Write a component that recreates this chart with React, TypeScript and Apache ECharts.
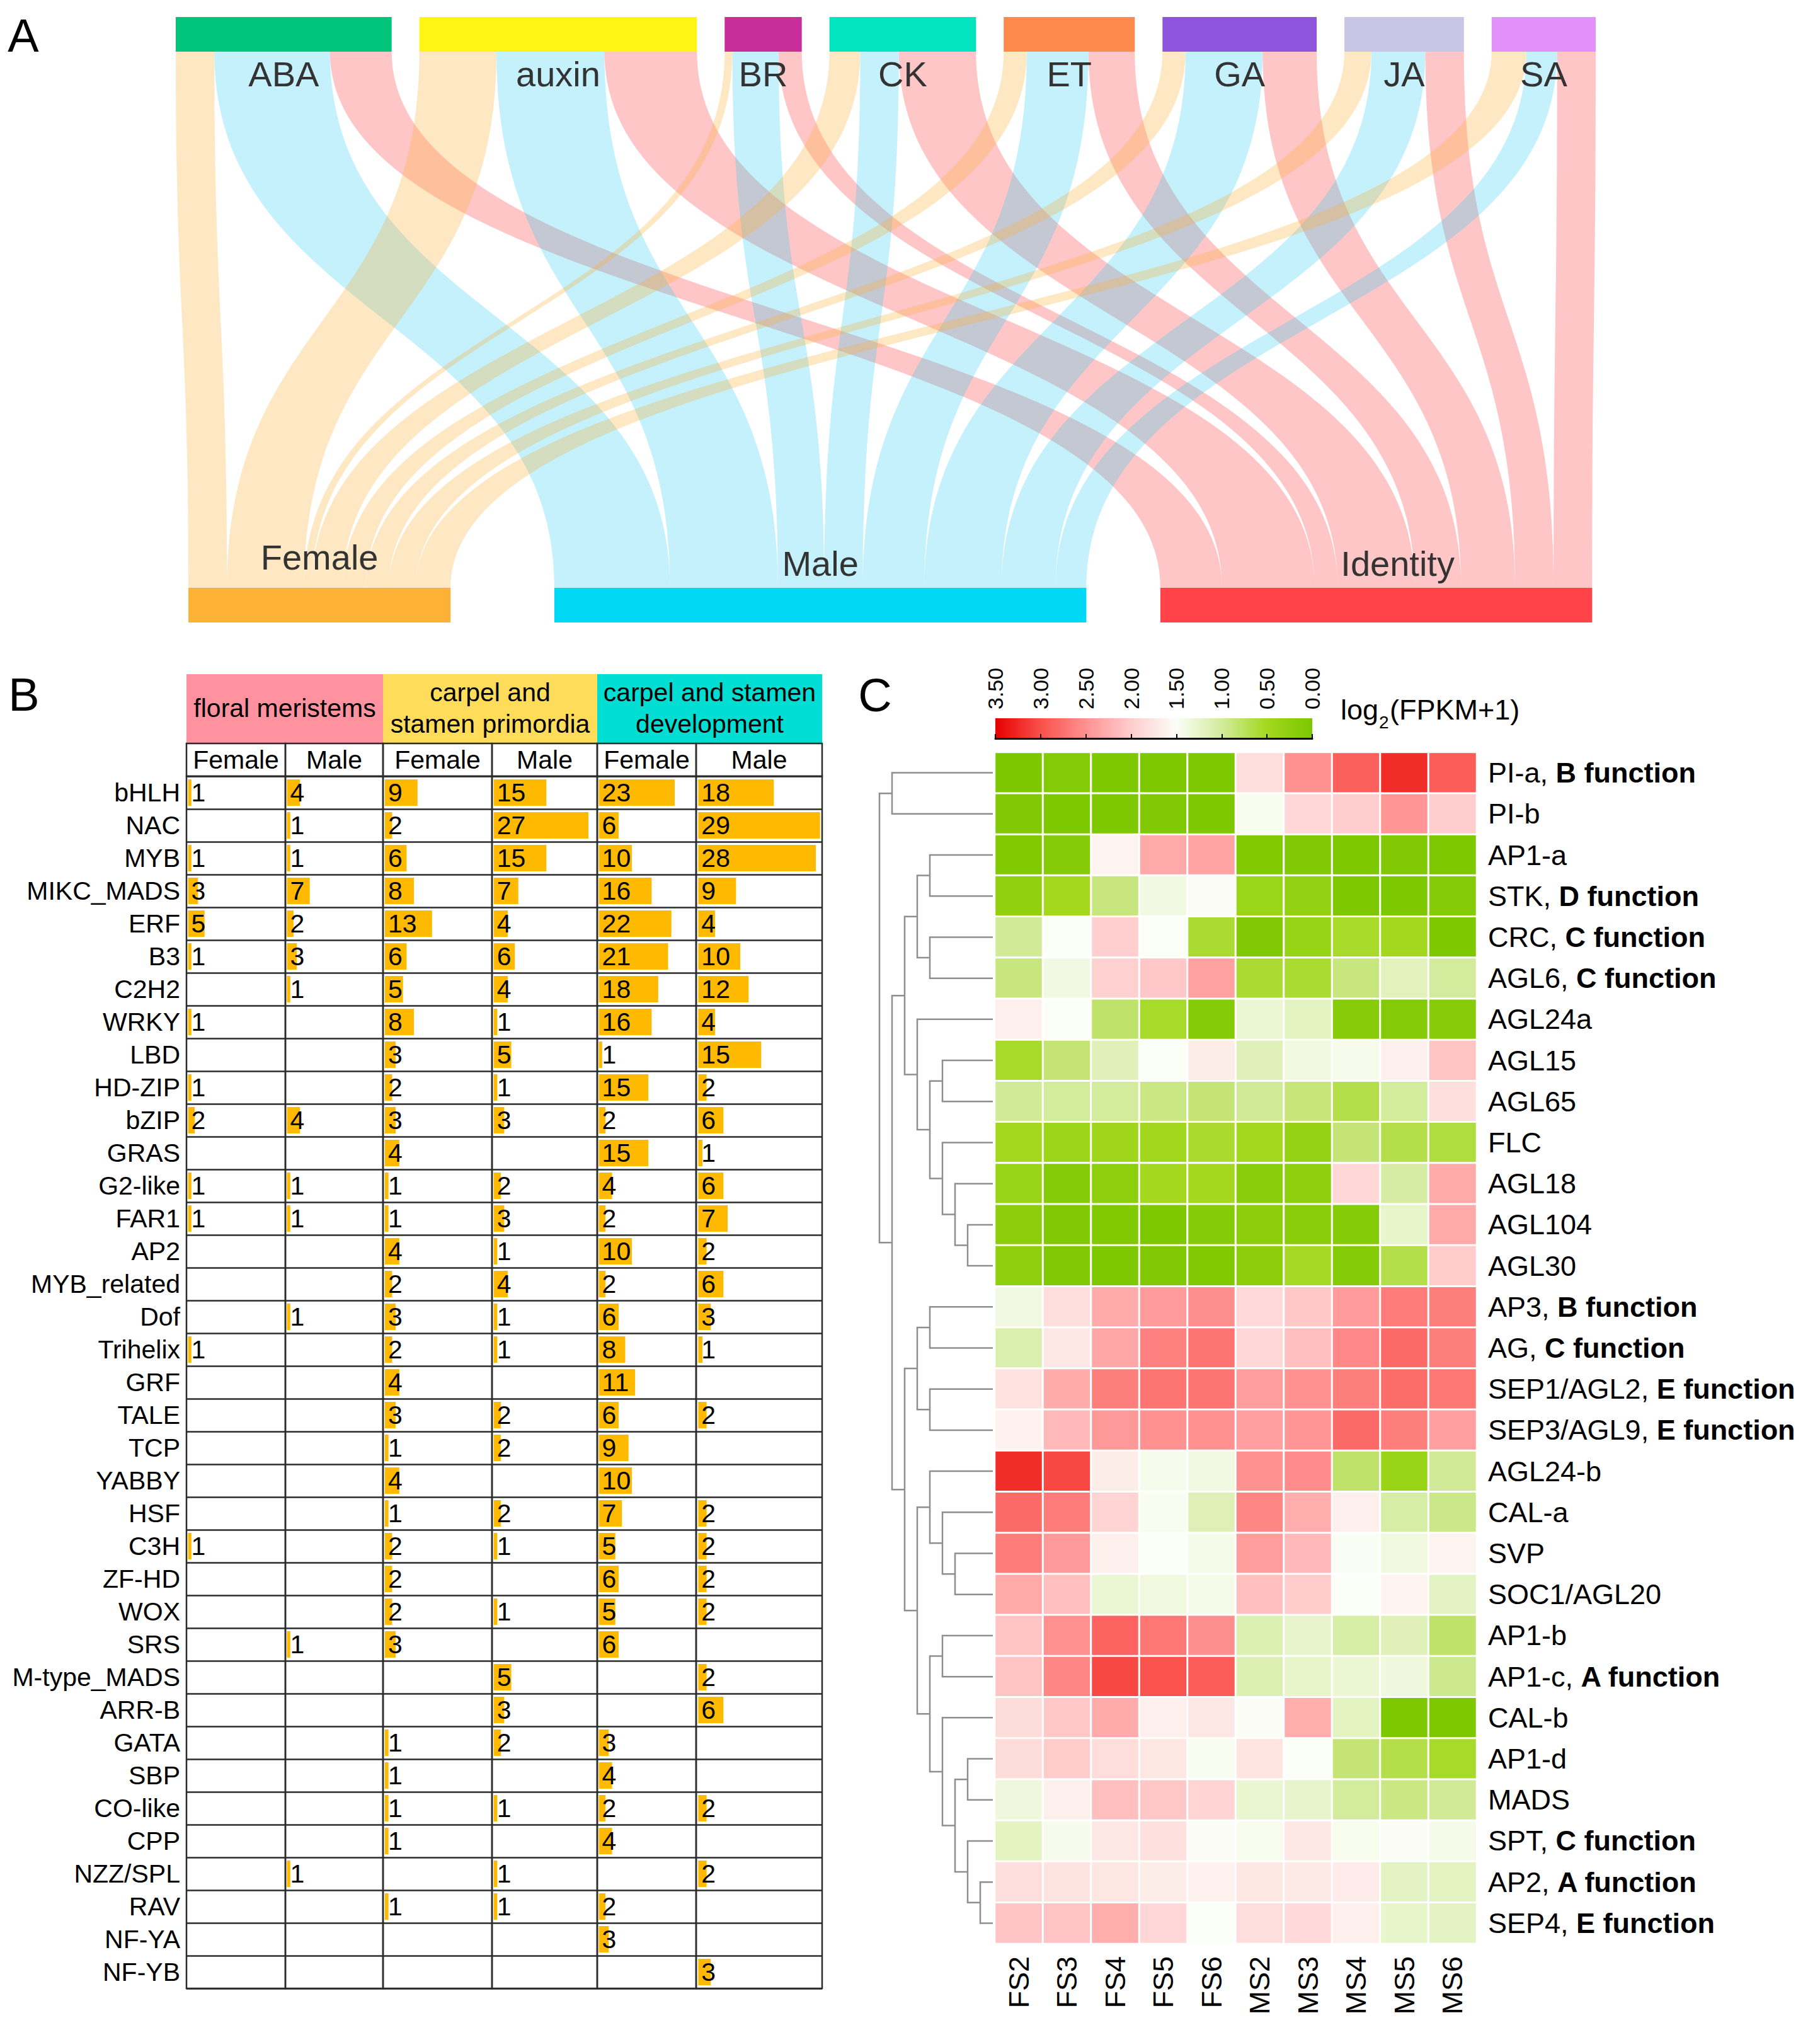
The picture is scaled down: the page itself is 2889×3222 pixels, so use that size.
import React, { useEffect, useRef } from 'react';
import * as echarts from 'echarts';

const FONT = '"Liberation Sans", Arial, Helvetica, sans-serif';
const W = 2889;
const H = 3222;

// ---------------- Panel A: hormone -> organ gene flows ----------------
const HORMONES = ['ABA', 'auxin', 'BR', 'CK', 'ET', 'GA', 'JA', 'SA'];
const HORMONE_COLORS = ['#00C47A', '#FFF514', '#C92D98', '#00E5C0', '#FF8A4C', '#8E54DB', '#C8C5E6', '#E291FB'];
const ORGANS = ['Female', 'Male', 'Identity'];
const ORGAN_COLORS = ['#FDB137', '#00D8F5', '#FF4349'];
const ORGAN_LINK_COLORS = ['rgba(253,177,55,0.3)', 'rgba(44,205,241,0.28)', 'rgba(255,67,73,0.3)'];
const FEMALE_GENES = [10, 20, 2, 8, 6, 6, 7, 9];
const MALE_GENES = [30, 28, 12, 10, 16, 20, 14, 8];
const IDENTITY_GENES = [16, 24, 6, 20, 12, 14, 10, 10];

// ---------------- Panel B: TF families ----------------
const TF_FAMILIES = ['bHLH', 'NAC', 'MYB', 'MIKC_MADS', 'ERF', 'B3', 'C2H2', 'WRKY', 'LBD', 'HD-ZIP', 'bZIP', 'GRAS', 'G2-like', 'FAR1', 'AP2', 'MYB_related', 'Dof', 'Trihelix', 'GRF', 'TALE', 'TCP', 'YABBY', 'HSF', 'C3H', 'ZF-HD', 'WOX', 'SRS', 'M-type_MADS', 'ARR-B', 'GATA', 'SBP', 'CO-like', 'CPP', 'NZZ/SPL', 'RAV', 'NF-YA', 'NF-YB'];
const _ = null;
const FM_FEMALE = [1, _, 1, 3, 5, 1, _, 1, _, 1, 2, _, 1, 1, _, _, _, 1, _, _, _, _, _, 1, _, _, _, _, _, _, _, _, _, _, _, _, _];
const FM_MALE = [4, 1, 1, 7, 2, 3, 1, _, _, _, 4, _, 1, 1, _, _, 1, _, _, _, _, _, _, _, _, _, 1, _, _, _, _, _, _, 1, _, _, _];
const CSP_FEMALE = [9, 2, 6, 8, 13, 6, 5, 8, 3, 2, 3, 4, 1, 1, 4, 2, 3, 2, 4, 3, 1, 4, 1, 2, 2, 2, 3, _, _, 1, 1, 1, 1, _, 1, _, _];
const CSP_MALE = [15, 27, 15, 7, 4, 6, 4, 1, 5, 1, 3, _, 2, 3, 1, 4, 1, 1, _, 2, 2, _, 2, 1, _, 1, _, 5, 3, 2, _, 1, _, 1, 1, _, _];
const CSD_FEMALE = [23, 6, 10, 16, 22, 21, 18, 16, 1, 15, 2, 15, 4, 2, 10, 2, 6, 8, 11, 6, 9, 10, 7, 5, 6, 5, 6, _, _, 3, 4, 2, 4, _, 2, 3, _];
const CSD_MALE = [18, 29, 28, 9, 4, 10, 12, 4, 15, 2, 6, 1, 6, 7, 2, 6, 3, 1, _, 2, _, _, 2, 2, 2, 2, _, 2, 6, _, _, 2, _, 2, _, _, 3];
const TABLE_COLUMNS = [FM_FEMALE, FM_MALE, CSP_FEMALE, CSP_MALE, CSD_FEMALE, CSD_MALE];
const SUB_HEADERS = ['Female', 'Male', 'Female', 'Male', 'Female', 'Male'];
const STAGE_HEADERS = ['floral meristems', 'carpel and\nstamen primordia', 'carpel and stamen\ndevelopment'];
const STAGE_COLORS = ['#FF929E', '#FFDC5A', '#00DED4'];

// ---------------- Panel C: MADS expression heatmap ----------------
const SAMPLES = ['FS2', 'FS3', 'FS4', 'FS5', 'FS6', 'MS2', 'MS3', 'MS4', 'MS5', 'MS6'];
const GENES = ['PI-a', 'PI-b', 'AP1-a', 'STK', 'CRC', 'AGL6', 'AGL24a', 'AGL15', 'AGL65', 'FLC', 'AGL18', 'AGL104', 'AGL30', 'AP3', 'AG', 'SEP1/AGL2', 'SEP3/AGL9', 'AGL24-b', 'CAL-a', 'SVP', 'SOC1/AGL20', 'AP1-b', 'AP1-c', 'CAL-b', 'AP1-d', 'MADS', 'SPT', 'AP2', 'SEP4'];
const GENE_FUNCTIONS = ['B function', '', '', 'D function', 'C function', 'C function', '', '', '', '', '', '', '', 'B function', 'C function', 'E function', 'E function', '', '', '', '', '', 'A function', '', '', '', 'C function', 'A function', 'E function'];
const EXPRESSION = [
  [0.0, 0.1, 0.02, 0.03, 0.02, 1.83, 2.5, 2.88, 3.22, 2.9],
  [0.07, 0.02, 0.02, 0.07, 0.02, 1.45, 1.9, 2.0, 2.47, 2.0],
  [0.05, 0.12, 1.6, 2.3, 2.35, 0.05, 0.07, 0.02, 0.07, 0.02],
  [0.25, 0.5, 0.88, 1.38, 1.52, 0.4, 0.28, 0.02, 0.02, 0.12],
  [0.98, 1.5, 1.98, 1.49, 0.58, 0.07, 0.35, 0.55, 0.5, 0.03],
  [0.88, 1.38, 1.97, 2.05, 2.37, 0.58, 0.57, 0.88, 1.18, 1.0],
  [1.65, 1.5, 0.8, 0.55, 0.12, 1.3, 1.2, 0.15, 0.1, 0.15],
  [0.55, 0.85, 1.15, 1.5, 1.67, 1.16, 1.36, 1.43, 1.65, 2.07],
  [0.98, 1.0, 1.0, 0.9, 0.85, 0.98, 0.87, 0.68, 1.0, 1.82],
  [0.5, 0.42, 0.45, 0.48, 0.56, 0.5, 0.33, 0.85, 0.68, 0.63],
  [0.38, 0.12, 0.22, 0.5, 0.5, 0.18, 0.22, 1.9, 1.03, 2.3],
  [0.2, 0.07, 0.05, 0.03, 0.12, 0.2, 0.17, 0.12, 1.25, 2.3],
  [0.23, 0.07, 0.03, 0.07, 0.05, 0.2, 0.53, 0.12, 0.68, 2.02],
  [1.38, 1.83, 2.28, 2.42, 2.52, 1.88, 2.05, 2.42, 2.67, 2.65],
  [1.1, 1.73, 2.32, 2.62, 2.72, 1.9, 2.12, 2.57, 2.8, 2.65],
  [1.78, 2.28, 2.65, 2.72, 2.72, 2.4, 2.5, 2.65, 2.78, 2.7],
  [1.62, 2.17, 2.44, 2.5, 2.5, 2.38, 2.47, 2.8, 2.65, 2.38],
  [3.22, 3.05, 1.67, 1.43, 1.38, 2.5, 2.55, 0.8, 0.38, 0.98],
  [2.8, 2.67, 1.93, 1.46, 1.14, 2.58, 2.27, 1.65, 1.05, 0.92],
  [2.67, 2.44, 1.65, 1.5, 1.42, 2.4, 2.17, 1.48, 1.36, 1.6],
  [2.3, 2.12, 1.3, 1.36, 1.42, 2.12, 2.02, 1.5, 1.6, 1.22],
  [2.07, 2.5, 2.85, 2.7, 2.52, 1.13, 1.26, 1.05, 1.15, 0.8],
  [2.07, 2.58, 3.05, 2.98, 2.9, 1.13, 1.25, 1.3, 1.35, 0.95],
  [1.85, 2.05, 2.28, 1.64, 1.73, 1.52, 2.27, 1.2, 0.02, 0.02],
  [1.85, 2.02, 1.84, 1.75, 1.46, 1.76, 1.49, 0.85, 0.68, 0.55],
  [1.35, 1.65, 2.12, 2.05, 1.93, 1.28, 1.26, 1.0, 0.9, 0.98],
  [1.2, 1.43, 1.73, 1.8, 1.52, 1.44, 1.73, 1.44, 1.52, 1.42],
  [1.83, 1.77, 1.75, 1.67, 1.62, 1.75, 1.7, 1.68, 1.22, 1.2],
  [2.07, 2.08, 2.27, 1.9, 1.5, 1.83, 1.88, 1.64, 1.25, 1.22],
];
// hierarchical clustering merges: negative = leaf row (-(index+1)), positive = earlier merge (1-based), then height
const MERGES: [number, number, number][] = [
  [-1, -2, 8], [-3, -4, 5], [-5, -6, 5], [2, 3, 6], [-8, -9, 4], [-12, -13, 2], [-11, 6, 3], [-10, 7, 4],
  [5, 8, 5], [-7, 9, 6], [4, 10, 7], [-14, -15, 5], [-16, -17, 5], [12, 13, 6], [-20, -21, 3], [-19, 15, 4],
  [-18, 16, 5], [-22, -23, 4], [-25, -26, 2], [-28, -29, 1], [-27, 20, 2], [19, 21, 3], [-24, 22, 4], [18, 23, 5],
  [17, 24, 6], [14, 25, 7], [11, 26, 8], [1, 27, 9],
];
const SCALE_TICKS = [0, 0.5, 1, 1.5, 2, 2.5, 3, 3.5];
const SCALE_COLORS = ['#7CC700', '#A3D81E', '#D2EB9C', '#FCFEF8', '#FFCDCD', '#FF9191', '#FA504B', '#E60000'];

// ---------------- layout (pixels) ----------------
const SANKEY_BOX = { left: 279, top: 27, right: W - 2533, bottom: H - 988 };
const ORGAN_NODE_X = [0.0089, 0.2666, 0.6934];
const ORGAN_LABEL_SHIFT = [[0, -10], [0, 0], [34, 0]];
const COL_X = [296, 453, 608, 781, 948, 1105, 1305];
const TABLE_TOP = 1232;
const ROW_H = 52;
const SUBHEAD_TOP = 1180;
const HEAD_TOP = 1070;
const HEAT = { left: 1579, top: 1194, width: 765, height: 1891 };
const DENDRO_LEFT = 1396;
const CBAR = { left: 1580, top: 1140, width: 503, height: 32 };
const LINE_COLOR = '#2b2b2b';

function dendrogramLines() {
  const nodes: { y: number; h: number }[] = [];
  const get = (id: number) => (id < 0 ? { y: -id - 1 + 0.5, h: 0 } : nodes[id - 1]);
  return MERGES.map(([a, b, h]) => {
    const A = get(a);
    const B = get(b);
    nodes.push({ y: (A.y + B.y) / 2, h });
    return { coords: [[A.h, A.y], [h, A.y], [h, B.y], [B.h, B.y]] };
  });
}

function buildOption() {
  const grids: any[] = [];
  const xAxes: any[] = [];
  const yAxes: any[] = [];
  const series: any[] = [];

  // table columns
  TABLE_COLUMNS.forEach((col, i) => {
    grids.push({
      left: COL_X[i], top: TABLE_TOP, width: COL_X[i + 1] - COL_X[i], height: TF_FAMILIES.length * ROW_H,
      show: true, borderColor: LINE_COLOR, borderWidth: 2.5, backgroundColor: 'transparent',
    });
    xAxes.push({ gridIndex: i, type: 'value', min: -0.5, max: 29.5, show: false });
    yAxes.push({
      gridIndex: i, type: 'category', data: TF_FAMILIES, inverse: true,
      axisLine: { show: false }, axisTick: { show: false },
      axisLabel: { show: i === 0, interval: 0, fontSize: 41, color: '#000', fontFamily: FONT, margin: 10 },
      splitLine: { show: true, interval: 0, lineStyle: { color: LINE_COLOR, width: 2.5 } },
    });
    series.push({
      type: 'bar', xAxisIndex: i, yAxisIndex: i, data: col, barWidth: 42,
      itemStyle: { color: '#FFBA00' },
      label: { show: true, position: 'insideLeft', distance: 5, color: '#000', fontSize: 41, fontFamily: FONT },
      emphasis: { disabled: true },
    });
  });

  // sankey
  const nodes = [
    ...HORMONES.map((n, i) => ({
      name: n, itemStyle: { color: HORMONE_COLORS[i], borderWidth: 0 },
      label: { position: 'bottom', distance: 7 },
    })),
    ...ORGANS.map((n, i) => ({
      name: n, localX: ORGAN_NODE_X[i], itemStyle: { color: ORGAN_COLORS[i], borderWidth: 0 },
      label: { position: 'top', distance: 11, offset: ORGAN_LABEL_SHIFT[i] },
    })),
  ];
  const flows = [FEMALE_GENES, MALE_GENES, IDENTITY_GENES];
  const links: any[] = [];
  HORMONES.forEach((h, hi) => {
    ORGANS.forEach((o, oi) => {
      links.push({ source: h, target: o, value: flows[oi][hi], lineStyle: { color: ORGAN_LINK_COLORS[oi] } });
    });
  });
  series.push({
    type: 'sankey', orient: 'vertical', ...SANKEY_BOX,
    nodeWidth: 55, nodeGap: 44, layoutIterations: 0, draggable: false,
    data: nodes, links,
    label: { show: true, fontSize: 56, color: '#333', fontFamily: FONT },
    lineStyle: { curveness: 0.5, opacity: 1 },
    emphasis: { disabled: true },
  });

  // dendrogram
  const dIdx = grids.length;
  grids.push({ left: DENDRO_LEFT, top: HEAT.top, width: HEAT.left - 3 - DENDRO_LEFT, height: HEAT.height });
  xAxes.push({ gridIndex: dIdx, type: 'value', min: 0, max: 9, inverse: true, show: false });
  yAxes.push({ gridIndex: dIdx, type: 'value', min: 0, max: GENES.length, inverse: true, show: false });
  series.push({
    type: 'lines', coordinateSystem: 'cartesian2d', xAxisIndex: dIdx, yAxisIndex: dIdx,
    polyline: true, clip: false, data: dendrogramLines(),
    lineStyle: { color: '#8E8E8E', width: 2.5, opacity: 1, curveness: 0 },
    emphasis: { disabled: true },
  });

  // heatmap
  const hIdx = grids.length;
  grids.push({ ...HEAT });
  xAxes.push({
    gridIndex: hIdx, type: 'category', data: SAMPLES, position: 'bottom',
    axisLine: { show: false }, axisTick: { show: false }, splitLine: { show: false },
    axisLabel: { interval: 0, rotate: 90, fontSize: 45, color: '#000', fontFamily: FONT, margin: 20 },
  });
  yAxes.push({
    gridIndex: hIdx, type: 'category', data: GENES, inverse: true, position: 'right',
    axisLine: { show: false }, axisTick: { show: false }, splitLine: { show: false },
    axisLabel: {
      interval: 0, fontSize: 45, color: '#000', fontFamily: FONT, margin: 18,
      formatter: (v: string, idx: number) => (GENE_FUNCTIONS[idx] ? `${v}, {b|${GENE_FUNCTIONS[idx]}}` : v),
      rich: { b: { fontWeight: 'bold', fontSize: 45, color: '#000', fontFamily: FONT } },
    },
  });
  const heatData: number[][] = [];
  EXPRESSION.forEach((row, r) => row.forEach((v, c) => heatData.push([c, r, v])));
  const heatSeriesIndex = series.length;
  series.push({
    type: 'heatmap', xAxisIndex: hIdx, yAxisIndex: hIdx, data: heatData,
    itemStyle: { borderColor: '#fff', borderWidth: 3 },
    emphasis: { disabled: true },
  });

  // colour-bar axis
  const cIdx = grids.length;
  grids.push({ left: CBAR.left, top: CBAR.top, width: CBAR.width, height: CBAR.height });
  xAxes.push({
    gridIndex: cIdx, type: 'value', min: 0, max: 3.5, interval: 0.5, inverse: true, position: 'top',
    axisLine: { show: true, lineStyle: { color: '#000', width: 3 } },
    axisTick: { show: true, length: 7, lineStyle: { color: '#000', width: 2 } },
    splitLine: { show: false },
    axisLabel: { rotate: 90, fontSize: 34, color: '#000', fontFamily: FONT, margin: 14, formatter: (v: number) => v.toFixed(2) },
  });
  yAxes.push({ gridIndex: cIdx, type: 'value', show: false });

  const gradientStops = SCALE_TICKS.map((v, i) => ({ offset: 1 - v / 3.5, color: SCALE_COLORS[i] })).reverse();

  const graphic: any[] = [
    { type: 'text', x: 37, y: 56, style: { text: 'A', fontSize: 74, fontFamily: FONT, fill: '#000', align: 'center', verticalAlign: 'middle' } },
    { type: 'text', x: 38, y: 1102, style: { text: 'B', fontSize: 74, fontFamily: FONT, fill: '#000', align: 'center', verticalAlign: 'middle' } },
    { type: 'text', x: 1389, y: 1103, style: { text: 'C', fontSize: 74, fontFamily: FONT, fill: '#000', align: 'center', verticalAlign: 'middle' } },
    {
      type: 'rect', shape: { x: CBAR.left, y: CBAR.top, width: CBAR.width, height: CBAR.height },
      style: { fill: { type: 'linear', x: 0, y: 0, x2: 1, y2: 0, colorStops: gradientStops } }, z: -1,
    },
    { type: 'text', x: 2128, y: 1126, style: { text: 'log', fontSize: 45, fontFamily: FONT, fill: '#000', align: 'left', verticalAlign: 'middle' } },
    { type: 'text', x: 2189, y: 1146, style: { text: '2', fontSize: 28, fontFamily: FONT, fill: '#000', align: 'left', verticalAlign: 'middle' } },
    { type: 'text', x: 2206, y: 1126, style: { text: '(FPKM+1)', fontSize: 45, fontFamily: FONT, fill: '#000', align: 'left', verticalAlign: 'middle' } },
  ];
  // stage header band
  STAGE_HEADERS.forEach((t, g) => {
    const x0 = COL_X[g * 2];
    const x1 = COL_X[g * 2 + 2];
    graphic.push({ type: 'rect', shape: { x: x0, y: HEAD_TOP, width: x1 - x0, height: SUBHEAD_TOP - HEAD_TOP }, style: { fill: STAGE_COLORS[g] } });
    graphic.push({ type: 'text', x: (x0 + x1) / 2, y: 1124, style: { text: t, fontSize: 41, lineHeight: 50, fontFamily: FONT, fill: '#000', align: 'center', verticalAlign: 'middle' } });
  });
  SUB_HEADERS.forEach((t, i) => {
    const x0 = COL_X[i];
    const x1 = COL_X[i + 1];
    graphic.push({ type: 'rect', shape: { x: x0, y: SUBHEAD_TOP, width: x1 - x0, height: TABLE_TOP - SUBHEAD_TOP }, style: { fill: 'none', stroke: LINE_COLOR, lineWidth: 2.5 } });
    graphic.push({ type: 'text', x: (x0 + x1) / 2, y: (SUBHEAD_TOP + TABLE_TOP) / 2, style: { text: t, fontSize: 41, fontFamily: FONT, fill: '#000', align: 'center', verticalAlign: 'middle' } });
  });

  return {
    animation: false,
    backgroundColor: '#fff',
    textStyle: { fontFamily: FONT },
    grid: grids,
    xAxis: xAxes,
    yAxis: yAxes,
    visualMap: {
      type: 'continuous', show: false, min: 0, max: 3.5, dimension: 2, seriesIndex: heatSeriesIndex,
      inRange: { color: SCALE_COLORS },
    },
    series,
    graphic,
  };
}

export default function App() {
  const ref = useRef<HTMLDivElement>(null);
  useEffect(() => {
    document.body.style.margin = '0';
    if (!ref.current) return;
    const chart = echarts.init(ref.current, undefined, { renderer: 'svg' });
    chart.setOption(buildOption() as any);
    return () => chart.dispose();
  }, []);
  return <div ref={ref} style={{ width: W, height: H, background: '#fff' }} />;
}
